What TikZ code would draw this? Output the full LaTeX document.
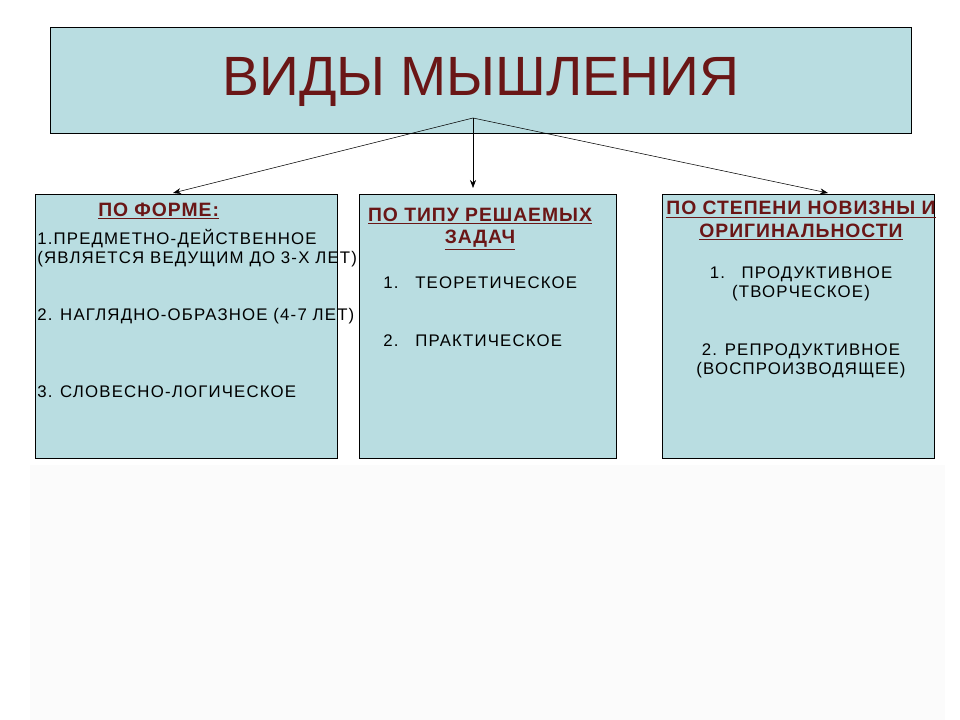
\documentclass[tikz,border=0pt]{standalone}
\usepackage{fontspec}
\setmainfont{Liberation Sans}
\usetikzlibrary{arrows.meta,positioning}
\definecolor{boxfill}{HTML}{B9DDE1}
\definecolor{titlered}{HTML}{6A1616}
\tikzset{
  panel/.style={draw=black, fill=boxfill, line width=0.6pt},
  head/.style={text=titlered, font=\fontsize{14.5}{17}\selectfont\bfseries\addfontfeatures{LetterSpace=5}, align=center, inner sep=0pt},
  item/.style={font=\fontsize{12.6}{14}\selectfont\addfontfeatures{LetterSpace=7}, inner sep=0pt, align=left},
}
\begin{document}
\begin{tikzpicture}[x=0.75pt,y=-0.75pt]
	\useasboundingbox (0,0) rectangle (960,720);
	\fill[black!1.5] (30,465) rectangle (945,720);
	
	% title box
	\draw[panel] (50,27) rectangle (911,133);
	\node[text=titlered, font=\fontsize{41.5}{48}\selectfont] (title) at (481,82) {ВИДЫ МЫШЛЕНИЯ};
	\coordinate (hub) at (473,118);
	
	% three boxes
	\draw[panel] (35,194) rectangle (337,458);
	\draw[panel] (359,194) rectangle (616,458);
	\draw[panel] (662,194) rectangle (934,458);
	\coordinate (left) at (173,193);
	\coordinate (mid) at (473,188);
	\coordinate (right) at (828,193);
	
	% arrows
	\draw[-{Stealth[length=6pt]}, thin] (hub) -- (left);
	\draw[-{Stealth[length=6pt]}, thin] (hub) -- (mid);
	\draw[-{Stealth[length=6pt]}, thin] (hub) -- (right);
	
	% left box
	\node[head, anchor=west] (formhead) at (98,211) {\underline{ПО ФОРМЕ:}};
	\node[item, anchor=west] (f1) at (37,248) {1.ПРЕДМЕТНО-ДЕЙСТВЕННОЕ\\(ЯВЛЯЕТСЯ ВЕДУЩИМ ДО 3-Х ЛЕТ)};
	\node[item, anchor=west] (f2) at (37,316) {2. НАГЛЯДНО-ОБРАЗНОЕ (4-7 ЛЕТ)};
	\node[item, anchor=west] (f3) at (37,392) {3. СЛОВЕСНО-ЛОГИЧЕСКОЕ};
	
	% middle box
	\node[head] (taskhead) at (480,229) {\underline{ПО ТИПУ РЕШАЕМЫХ}\\\underline{ЗАДАЧ}};
	\node[item, anchor=west] (t1) at (383,283) {1.\quad ТЕОРЕТИЧЕСКОЕ};
	\node[item, anchor=west] (t2) at (383,341) {2.\quad ПРАКТИЧЕСКОЕ};
	
	% right box
	\node[head] (newhead) at (801,221) {\underline{ПО СТЕПЕНИ НОВИЗНЫ И}\\\underline{ОРИГИНАЛЬНОСТИ}};
	\node[item, align=center] (n1) at (801,284) {1.\quad ПРОДУКТИВНОЕ\\(ТВОРЧЕСКОЕ)};
	\node[item, align=center] (n2) at (801,361) {2. РЕПРОДУКТИВНОЕ\\(ВОСПРОИЗВОДЯЩЕЕ)};
\end{tikzpicture}
\end{document}
